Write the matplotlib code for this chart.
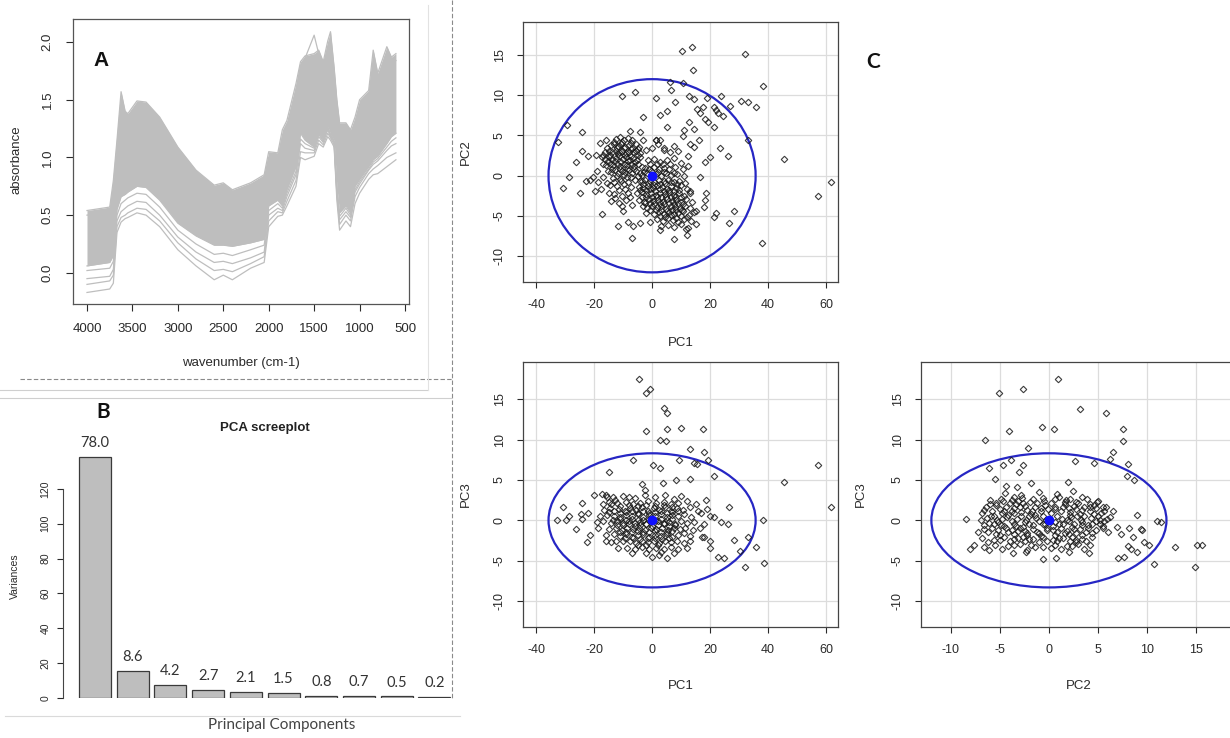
import numpy as np
import matplotlib
matplotlib.use("Agg")
import matplotlib.pyplot as plt
from matplotlib.patches import Ellipse
from matplotlib.lines import Line2D

plt.rcParams["font.family"] = ["Liberation Sans", "DejaVu Sans"]
plt.rcParams["axes.unicode_minus"] = False

W, H = 1230, 738

# ---------------- data ----------------
# FTIR spectra (absorbance read at these wavenumbers)
wavenumbers = [4000, 3750, 3710, 3670, 3625, 3580, 3550, 3450, 3350, 3200,
               3000, 2800, 2600, 2500, 2400, 2200, 2050, 2000, 1900, 1850,
               1800, 1700, 1650, 1600, 1500, 1450, 1400, 1350, 1320, 1280,
               1250, 1220, 1150, 1100, 1050, 1000, 900, 850, 800, 700,
               650, 600]
spec_upper = [0.54, 0.57, 0.80, 1.15, 1.57, 1.40, 1.38, 1.49, 1.48, 1.35,
              1.09, 0.89, 0.76, 0.78, 0.72, 0.78, 0.85, 1.05, 1.04, 1.24,
              1.32, 1.64, 1.83, 1.88, 1.90, 1.93, 1.83, 2.01, 2.09, 1.78,
              1.50, 1.30, 1.30, 1.24, 1.35, 1.50, 1.58, 1.93, 1.73, 1.96,
              1.87, 1.90]
spec_peak = [0.50, 0.53, 0.75, 1.10, 1.50, 1.36, 1.34, 1.45, 1.44, 1.30,
             1.05, 0.85, 0.72, 0.74, 0.69, 0.75, 0.82, 1.00, 1.00, 1.18,
             1.26, 1.58, 1.80, 1.86, 2.06, 1.90, 1.80, 1.96, 2.02, 1.72,
             1.45, 1.26, 1.26, 1.20, 1.30, 1.45, 1.52, 1.85, 1.68, 1.90,
             1.80, 1.84]
spec_band_low = [0.06, 0.09, 0.15, 0.55, 0.66, 0.68, 0.70, 0.75, 0.74, 0.63,
                 0.43, 0.32, 0.24, 0.24, 0.23, 0.26, 0.29, 0.58, 0.63, 0.58,
                 0.72, 0.92, 1.21, 1.15, 1.09, 1.21, 1.15, 1.27, 1.20, 1.15,
                 0.75, 0.52, 0.58, 0.52, 0.75, 0.81, 0.92, 0.98, 1.01, 1.12,
                 1.18, 1.21]
spec_low1 = [-0.17, -0.14, -0.09, 0.35, 0.44, 0.47, 0.48, 0.52, 0.50, 0.40,
             0.20, 0.06, -0.06, -0.02, -0.06, 0.04, 0.09, 0.40, 0.49, 0.50,
             0.58, 0.75, 1.00, 0.98, 1.01, 1.12, 1.09, 1.18, 1.15, 1.09,
             0.63, 0.37, 0.45, 0.40, 0.60, 0.69, 0.81, 0.85, 0.86, 0.92,
             0.95, 0.98]
spec_low2 = [-0.10, -0.07, -0.02, 0.40, 0.48, 0.50, 0.52, 0.56, 0.55, 0.45,
             0.26, 0.12, 0.02, 0.03, 0.01, 0.08, 0.14, 0.45, 0.53, 0.52,
             0.62, 0.80, 1.05, 1.04, 1.04, 1.15, 1.11, 1.21, 1.17, 1.11,
             0.68, 0.42, 0.50, 0.45, 0.66, 0.74, 0.86, 0.90, 0.93, 1.00,
             1.02, 1.04]
spec_low3 = [-0.05, -0.03, 0.03, 0.45, 0.53, 0.56, 0.58, 0.62, 0.61, 0.50,
             0.31, 0.18, 0.09, 0.10, 0.08, 0.13, 0.18, 0.50, 0.56, 0.54,
             0.66, 0.85, 1.12, 1.08, 1.06, 1.18, 1.13, 1.24, 1.18, 1.13,
             0.70, 0.46, 0.53, 0.48, 0.70, 0.77, 0.89, 0.94, 0.97, 1.06,
             1.10, 1.12]
spec_low4 = [0.02, 0.04, 0.10, 0.50, 0.60, 0.63, 0.65, 0.69, 0.68, 0.57,
             0.37, 0.25, 0.16, 0.17, 0.15, 0.20, 0.24, 0.54, 0.60, 0.56,
             0.69, 0.88, 1.16, 1.12, 1.08, 1.20, 1.14, 1.26, 1.19, 1.14,
             0.72, 0.49, 0.56, 0.50, 0.72, 0.79, 0.90, 0.96, 0.99, 1.09,
             1.14, 1.17]

# scree plot
variances = [138.5, 15.3, 7.5, 4.8, 3.7, 2.7, 1.4, 1.24, 0.89, 0.36]
pct_labels = ["78.0", "8.6", "4.2", "2.7", "2.1", "1.5", "0.8", "0.7", "0.5", "0.2"]

# Hotelling T2 ellipse radii on each PC
t2_radius = {"PC1": 35.7, "PC2": 12.0, "PC3": 8.3}

# PC1 vs PC2 scores
scores_pc1_pc2 = [
    (10.4, 15.5), (13.6, 16.0), (14.0, 13.1), (32.2, 15.1), (38.3, 11.1),
    (45.5, 2.1), (57.2, -2.5), (61.6, -0.8), (38.0, -8.3), (28.2, -4.4),
    (26.4, -5.9), (23.9, 9.9), (30.5, 9.3), (33.0, 9.1), (35.7, 8.6),
    (33.0, 4.5), (26.8, 8.7), (24.5, 7.4), (23.4, 3.5), (26.1, 2.4),
    (20.1, 2.3), (18.1, 1.7), (19.0, 9.6), (21.3, 8.5), (22.0, 8.2),
    (22.7, 7.8), (18.2, 7.1), (19.2, 6.7), (21.3, 6.1), (16.5, 7.8),
    (17.6, 8.6), (15.5, 8.3), (14.4, 9.5), (12.7, 9.9), (10.7, 11.5),
    (6.1, 11.7), (6.6, 10.7), (7.8, 9.2), (5.2, 8.1), (2.9, 7.5),
    (5.2, 6.1), (1.2, 9.6), (-5.8, 10.4), (-10.2, 9.9), (-3.1, 7.3),
    (-4.0, 5.4), (-7.7, 5.5), (-29.3, 6.3), (-24.2, 5.4), (-32.6, 4.2),
    (-24.2, 3.1), (-22.1, 2.5), (-26.1, 1.7), (-28.7, -0.1), (-30.8, -1.5),
    (-24.7, -2.1), (-19.6, -1.9), (-17.3, -4.7), (-10.0, -4.4), (-11.9, -6.2),
    (-8.3, -5.8), (-6.6, -6.2), (-6.8, -7.7), (-4.0, -5.9), (-0.6, -5.8),
    (2.6, -6.8), (7.5, -7.8), (12.1, -7.4), (11.6, -6.6), (15.3, -6.0),
    (15.1, -4.4), (18.2, -3.0), (18.5, -2.1), (17.8, -3.9), (22.0, -4.6),
    (21.3, -5.1), (16.5, -0.2), (13.2, -1.9), (12.4, 2.4), (14.4, 3.6),
    (13.0, 4.0), (16.1, 4.4), (14.4, 5.8), (12.7, 6.7), (10.9, 5.7),
    (10.7, 4.9), (7.5, 3.7), (4.0, 3.4), (1.2, 4.4), (2.6, 4.5),
    (-12.5, 4.6), (-11.0, 4.8), (-9.8, 4.5), (-8.2, 4.7), (-6.8, 4.4),
    (-14.2, 3.8), (-13.0, 3.9), (-11.8, 3.7), (-10.6, 3.9), (-9.4, 3.6),
    (-8.1, 3.8), (-6.9, 3.5), (-5.7, 3.9), (-4.4, 3.6), (-16.2, 3.0),
    (-15.0, 3.1), (-13.8, 2.9), (-12.6, 3.1), (-11.4, 2.9), (-10.2, 3.1),
    (-9.0, 2.8), (-7.8, 3.0), (-6.6, 2.9), (-5.4, 3.1), (-4.2, 2.8),
    (-17.4, 2.3), (-16.1, 2.1), (-14.9, 2.3), (-13.7, 2.1), (-12.5, 2.2),
    (-11.3, 2.4), (-10.1, 2.1), (-8.9, 2.3), (-7.7, 2.0), (-6.5, 2.2),
    (-5.3, 2.0), (-4.1, 2.3), (-17.0, 1.4), (-15.8, 1.3), (-14.6, 1.5),
    (-13.4, 1.3), (-12.2, 1.5), (-11.0, 1.2), (-9.8, 1.4), (-8.6, 1.3),
    (-7.4, 1.5), (-6.2, 1.2), (-5.0, 1.4), (-3.6, 1.1), (-15.2, 0.6),
    (-14.0, 0.5), (-12.8, 0.7), (-11.6, 0.4), (-10.4, 0.6), (-9.2, 0.5),
    (-8.0, 0.7), (-6.8, 0.4), (-5.6, 0.6), (-4.2, 0.3), (-16.8, -0.2),
    (-13.5, -0.3), (-11.0, -0.4), (-8.6, -0.2), (-6.0, -0.5), (-3.6, -0.6),
    (-14.4, -1.1), (-12.0, -1.3), (-9.6, -1.0), (-7.2, -1.4), (-15.0, -2.1),
    (-13.0, -2.3), (-10.5, -2.5), (-8.2, -2.2), (-14.0, -3.1), (-11.5, -3.4),
    (-9.0, -3.0), (-6.8, -3.6), (-19.5, 2.6), (-19.0, 0.6), (-20.5, -0.2),
    (-21.5, -0.5), (-18.5, -0.8), (-22.8, -0.7), (-18.0, 4.1), (-16.0, 4.4),
    (-15.5, -0.9), (-17.5, -1.6),
    (-13.2, 4.2), (-10.4, 4.2), (-7.4, 4.1), (-15.6, 3.5), (-12.2, 3.4),
    (-9.8, 3.4), (-7.2, 3.3), (-4.9, 3.3), (-16.8, 2.6), (-14.4, 2.6),
    (-11.9, 2.7), (-9.5, 2.6), (-7.1, 2.5), (-4.7, 2.6), (-15.2, 1.8),
    (-12.8, 1.8), (-10.6, 1.7), (-8.2, 1.8), (-5.8, 1.7), (-13.9, 0.9),
    (-11.0, 0.9), (-8.6, 0.9), (-6.2, 0.8), (-12.2, 0.0), (-9.8, 0.1),
    (-7.4, -0.1), (-5.0, 0.0), (-13.0, -0.8), (-10.8, -0.7), (-8.4, -0.8),
    (-11.5, -1.8), (-9.2, -1.7), (-12.8, -2.8), (-10.2, -3.8), (-7.5, -2.6),
    (-1.5, 1.9), (0.5, 2.1), (2.8, 1.7), (5.0, 1.9), (7.5, 2.2),
    (9.8, 1.6), (-2.6, 1.0), (-1.0, 0.9), (0.8, 1.1), (2.4, 0.8),
    (4.0, 1.0), (5.8, 0.9), (8.0, 1.1), (10.5, 0.8), (12.5, 1.2),
    (-3.4, 0.1), (-1.8, 0.3), (1.5, 0.2), (3.1, 0.0), (4.8, 0.3),
    (6.6, 0.1), (8.6, 0.2), (11.0, 0.0), (-4.0, -0.7), (-2.4, -0.5),
    (-0.8, -0.6), (0.8, -0.8), (2.4, -0.5), (4.0, -0.7), (5.6, -0.5),
    (7.4, -0.8), (9.3, -0.6), (11.5, -0.9), (-4.6, -1.4), (-3.0, -1.5),
    (-1.4, -1.3), (0.2, -1.5), (1.8, -1.2), (3.4, -1.4), (5.0, -1.6),
    (6.6, -1.3), (8.2, -1.5), (10.0, -1.2), (12.2, -1.6), (-5.2, -2.2),
    (-3.6, -2.0), (-2.0, -2.3), (-0.4, -2.1), (1.2, -2.4), (2.8, -2.1),
    (4.4, -2.3), (6.0, -2.0), (7.6, -2.4), (9.2, -2.2), (11.0, -2.5),
    (13.0, -2.1), (-4.4, -3.0), (-2.8, -3.2), (-1.2, -2.9), (0.4, -3.1),
    (2.0, -3.0), (3.6, -3.3), (5.2, -2.9), (6.8, -3.1), (8.4, -3.0),
    (10.0, -3.3), (11.8, -2.9), (13.8, -3.2), (-3.2, -3.8), (-1.6, -4.0),
    (0.0, -3.7), (1.6, -3.9), (3.2, -3.8), (4.8, -4.1), (6.4, -3.7),
    (8.0, -3.9), (9.6, -4.1), (11.2, -3.8), (13.0, -4.0), (-2.0, -4.6),
    (0.6, -4.7), (2.4, -4.5), (4.2, -4.8), (5.8, -4.5), (7.4, -4.7),
    (9.0, -4.6), (10.8, -4.4), (12.6, -4.9), (14.5, -4.5), (1.8, -5.4),
    (3.8, -5.6), (5.5, -5.3), (7.2, -5.5), (9.0, -5.7), (11.0, -5.4),
    (13.3, -5.6), (3.2, -6.3), (5.4, -6.1), (7.6, -6.4), (10.0, -6.0),
    (12.4, -6.5), (-2.0, 3.2), (0.0, 3.5), (2.2, 4.0), (4.0, 3.2),
    (6.2, 2.9), (8.8, 3.1), (-3.0, 4.4), (1.5, 4.5),
    (-0.6, 1.5), (1.6, 1.5), (3.8, 1.4), (6.2, 1.5), (-2.8, 0.5),
    (-0.4, 0.6), (2.2, 0.5), (4.0, 0.5), (7.4, 0.4), (-3.2, -1.0),
    (-1.4, -0.9), (0.6, -1.1), (2.8, -1.0), (4.6, -0.9), (6.4, -0.8),
    (8.6, -1.0), (-4.0, -1.8), (-2.2, -1.8), (-0.6, -1.7), (1.0, -1.9),
    (2.6, -1.7), (4.2, -1.9), (5.8, -1.8), (7.4, -1.9), (9.4, -1.8),
    (-3.6, -2.6), (-2.0, -2.6), (0.0, -2.7), (1.6, -2.6), (3.2, -2.7),
    (4.8, -2.6), (6.4, -2.7), (8.0, -2.6), (9.8, -2.7), (-2.4, -3.4),
    (-0.8, -3.4), (0.8, -3.5), (2.6, -3.4), (4.2, -3.5), (5.8, -3.4),
    (7.4, -3.5), (9.0, -3.4), (10.8, -3.5), (-0.6, -4.3), (1.2, -4.2),
    (3.0, -4.3), (5.0, -4.4), (6.8, -4.3), (8.4, -4.2), (10.2, -4.3),
    (2.8, -5.0), (4.6, -5.1), (6.4, -4.9), (8.2, -5.2), (10.0, -5.0),
    (12.0, -5.1),
]

# PC1 vs PC3 scores
scores_pc1_pc3 = [
    (-4.4, 17.5), (-2.0, 15.8), (-0.6, 16.3), (4.0, 13.9), (5.2, 13.3),
    (-2.0, 11.0), (5.2, 11.3), (10.0, 11.4), (17.5, 11.3), (2.6, 9.9),
    (4.9, 9.8), (13.2, 8.8), (17.8, 8.4), (19.2, 7.5), (14.4, 7.1),
    (15.5, 7.0), (9.2, 7.5), (-6.6, 7.5), (0.3, 6.9), (2.6, 6.5),
    (-14.7, 6.0), (21.5, 5.5), (13.0, 5.1), (8.1, 5.0), (3.8, 4.6),
    (-3.5, 4.5), (-2.6, 3.8), (45.5, 4.8), (57.2, 6.8), (61.6, 1.7),
    (38.1, 0.1), (26.6, 1.6), (21.3, 0.4), (23.6, -0.2), (26.1, -0.5),
    (28.4, -2.4), (33.0, -2.0), (35.7, -3.3), (30.3, -3.8), (38.5, -5.3),
    (32.2, -5.8), (22.8, -4.5), (24.7, -4.6), (20.1, -3.4), (20.1, -2.6),
    (17.3, -2.0), (-32.8, 0.0), (-30.8, 1.7), (-29.6, 0.1), (-28.5, 0.5),
    (-26.1, -1.1), (-24.5, 0.8), (-24.2, 2.1), (-24.2, 0.2), (-22.1, 0.9),
    (-20.1, 3.2), (-22.4, -2.7), (-21.5, -1.8), (-15.9, -2.5), (-11.9, -3.4),
    (-12.3, -2.5), (-17.3, 3.3), (-15.5, 2.9), (-12.7, 2.5), (-7.8, 2.9),
    (-16.0, 3.2), (-13.5, 2.9), (-10.0, 3.0), (-6.0, 2.8), (-2.5, 3.1),
    (1.0, 2.9), (4.5, 3.2), (7.5, 2.7), (10.0, 3.0), (-17.0, 2.0),
    (-15.0, 2.3), (-12.0, 2.1), (-9.0, 2.3), (-6.5, 2.0), (-4.0, 2.2),
    (-1.5, 2.4), (1.5, 2.1), (4.0, 2.3), (6.5, 2.0), (9.0, 2.2),
    (12.0, 2.4), (15.0, 2.0), (18.5, 2.5), (-16.5, 1.3), (-14.5, 1.5),
    (-11.5, 1.4), (-9.5, 1.2), (-7.5, 1.5), (-5.5, 1.3), (-3.5, 1.6),
    (-1.5, 1.2), (0.5, 1.5), (2.5, 1.3), (4.5, 1.6), (6.5, 1.2),
    (8.5, 1.5), (10.5, 1.3), (13.0, 1.6), (16.0, 1.1), (19.0, 1.4),
    (-18.0, 0.5), (-15.5, 0.7), (-13.0, 0.6), (-11.0, 0.4), (-9.0, 0.7),
    (-7.0, 0.5), (-5.0, 0.8), (-3.0, 0.4), (-1.0, 0.7), (1.0, 0.5),
    (3.0, 0.8), (5.0, 0.4), (7.0, 0.7), (9.0, 0.5), (11.0, 0.8),
    (13.5, 0.4), (17.0, 0.9), (20.0, 0.6), (-19.0, -0.2), (-17.0, -0.1),
    (-14.0, -0.3), (-12.0, -0.1), (-10.0, -0.3), (-8.0, -0.1), (-6.0, -0.3),
    (-4.0, -0.2), (-2.0, -0.4), (2.0, -0.1), (4.0, -0.3), (6.0, -0.2),
    (8.0, -0.4), (10.0, -0.1), (12.0, -0.3), (14.5, -0.2), (18.0, -0.5),
    (-18.5, -1.0), (-15.0, -1.1), (-12.5, -0.9), (-10.5, -1.2), (-8.5, -0.9),
    (-6.5, -1.1), (-4.5, -0.9), (-2.5, -1.2), (-0.5, -1.0), (1.5, -1.1),
    (3.5, -0.9), (5.5, -1.2), (7.5, -1.0), (9.5, -1.1), (11.5, -0.9),
    (14.0, -1.2), (16.5, -1.0), (-16.0, -1.8), (-13.0, -1.7), (-11.0, -1.9),
    (-9.0, -1.7), (-7.0, -2.0), (-5.0, -1.8), (-3.0, -1.7), (-1.0, -2.0),
    (1.0, -1.8), (3.0, -1.9), (5.0, -1.7), (7.0, -2.0), (9.0, -1.8),
    (11.0, -1.6), (13.0, -1.9), (18.0, -2.1), (-14.0, -2.7), (-10.0, -2.6),
    (-7.5, -2.5), (-5.5, -2.8), (-3.5, -2.6), (-1.5, -2.7), (0.5, -2.5),
    (2.5, -2.8), (4.5, -2.6), (6.5, -2.7), (8.5, -2.5), (11.0, -2.8),
    (13.0, -2.6), (-8.5, -3.4), (-6.0, -3.5), (-3.5, -3.3), (-1.0, -3.6),
    (1.5, -3.4), (4.0, -3.5), (6.5, -3.3), (9.0, -3.6), (12.0, -3.4),
    (-7.0, -4.0), (-2.0, -4.1), (0.0, -4.5), (2.5, -4.3), (5.0, -4.6),
    (7.5, -4.0), (3.0, -3.9),
    (-14.0, 2.0), (-11.0, 1.8), (-8.0, 1.9), (-5.0, 1.8), (-2.0, 1.9),
    (1.0, 1.8), (4.0, 1.9), (7.0, 1.7), (-15.0, 1.0), (-13.0, 1.1),
    (-11.0, 0.9), (-9.0, 1.0), (-7.0, 1.1), (-5.0, 0.9), (-3.0, 1.1),
    (-1.0, 0.9), (1.0, 1.0), (3.0, 1.1), (5.0, 0.9), (7.0, 1.0),
    (9.0, 1.1), (-13.5, 0.1), (-11.0, 0.2), (-9.0, 0.0), (-7.0, 0.2),
    (-5.0, 0.1), (-3.0, 0.0), (-1.0, 0.2), (1.0, 0.0), (3.0, 0.2),
    (5.0, 0.0), (7.0, 0.2), (-12.0, -0.6), (-10.0, -0.6), (-8.0, -0.5),
    (-6.0, -0.7), (-4.0, -0.6), (-2.0, -0.5), (0.0, -0.7), (2.0, -0.6),
    (4.0, -0.5), (6.0, -0.7), (8.0, -0.6), (-11.0, -1.4), (-9.0, -1.5),
    (-7.0, -1.4), (-5.0, -1.3), (-3.0, -1.5), (-1.0, -1.4), (1.0, -1.3),
    (3.0, -1.5), (5.0, -1.4), (7.0, -1.3), (-9.5, -2.2), (-6.5, -2.2),
    (-4.0, -2.3), (-1.5, -2.2), (1.0, -2.2), (3.5, -2.3), (6.0, -2.2),
    (-5.0, -3.0), (-2.0, -3.0), (2.0, -3.0),
]

# PC2 vs PC3 scores
scores_pc2_pc3 = [
    (0.9, 17.5), (-2.6, 16.3), (-5.1, 15.8), (3.2, 13.8), (5.8, 13.3),
    (7.6, 11.3), (7.6, 9.8), (-0.7, 11.5), (0.5, 11.3), (-4.1, 11.1),
    (-6.5, 9.9), (-2.1, 8.9), (6.5, 8.4), (6.2, 7.6), (2.7, 7.4),
    (4.6, 7.1), (8.1, 7.0), (-3.9, 7.5), (-4.7, 6.9), (-2.6, 6.8),
    (-6.1, 6.5), (-3.1, 6.0), (8.0, 5.5), (8.7, 5.0), (-5.5, 5.1),
    (-1.8, 4.6), (1.9, 4.8), (-4.4, 4.3), (-3.3, 4.1), (-8.5, 0.2),
    (4.9, 2.3), (5.5, 1.7), (9.0, 0.7), (11.0, -0.1), (11.4, -0.2),
    (5.6, -0.1), (6.9, -0.8), (7.4, -1.7), (8.2, -1.0), (9.4, -1.1),
    (9.5, -1.2), (8.6, -2.1), (9.7, -2.7), (10.2, -3.1), (8.1, -3.2),
    (8.4, -3.6), (9.0, -3.9), (7.1, -4.6), (7.7, -4.5), (12.9, -3.3),
    (15.1, -3.1), (15.6, -3.1), (14.9, -5.8), (10.7, -5.4), (4.1, -4.0),
    (2.1, -3.9), (0.7, -4.6), (-0.6, -4.8), (-3.7, -4.0), (-2.3, -3.9),
    (-8.1, -3.6), (-7.7, -3.1), (-7.2, -1.5), (-6.6, -3.3), (-6.1, -3.7),
    (-4.5, 3.4), (-2.8, 3.2), (-1.0, 3.5), (0.8, 3.3), (2.5, 3.6),
    (-3.6, 2.9), (-6.0, 2.5), (-4.9, 2.7), (-3.8, 2.5), (-2.7, 2.8),
    (-1.6, 2.6), (-0.5, 2.4), (0.6, 2.7), (1.7, 2.5), (2.8, 2.3),
    (3.9, 2.6), (5.0, 2.4), (-6.4, 1.7), (-5.4, 1.9), (-4.4, 1.7),
    (-3.4, 2.0), (-2.4, 1.8), (-1.4, 1.6), (-0.4, 1.9), (0.6, 1.7),
    (1.6, 2.0), (2.6, 1.8), (3.6, 1.6), (4.6, 1.9), (5.8, 1.6),
    (-6.8, 0.9), (-5.8, 1.1), (-4.8, 0.9), (-3.8, 1.2), (-2.8, 1.0),
    (-1.8, 0.8), (-0.8, 1.1), (0.2, 0.9), (1.2, 1.2), (2.2, 1.0),
    (3.2, 0.8), (4.2, 1.1), (5.3, 0.9), (6.5, 1.2), (-6.3, 0.3),
    (-5.3, 0.1), (-4.3, 0.4), (-3.3, 0.2), (-2.3, 0.0), (-1.3, 0.3),
    (-0.3, 0.1), (1.3, 0.2), (2.3, 0.4), (3.3, 0.1), (4.3, 0.3),
    (5.2, 0.0), (6.2, 0.4), (-6.6, -0.6), (-5.6, -0.4), (-4.6, -0.7),
    (-3.6, -0.5), (-2.6, -0.8), (-1.6, -0.6), (-0.6, -0.4), (0.4, -0.7),
    (1.4, -0.5), (2.4, -0.8), (3.4, -0.6), (4.4, -0.4), (5.5, -0.7),
    (-6.2, -1.4), (-5.2, -1.2), (-4.2, -1.5), (-3.2, -1.3), (-2.2, -1.6),
    (-1.2, -1.4), (-0.2, -1.2), (0.8, -1.5), (1.8, -1.3), (2.8, -1.6),
    (3.8, -1.4), (4.8, -1.2), (6.0, -1.5), (-6.8, -2.2), (-5.6, -2.4),
    (-4.6, -2.1), (-3.6, -2.3), (-2.6, -2.0), (-1.6, -2.3), (-0.6, -2.1),
    (0.4, -2.4), (1.4, -2.2), (2.4, -2.0), (3.4, -2.3), (4.4, -2.1),
    (-5.5, -3.0), (-4.2, -3.2), (-3.0, -2.9), (-1.8, -3.1), (-0.6, -3.3),
    (0.6, -3.0), (1.8, -3.2), (3.0, -2.9), (4.2, -3.1), (-2.2, -3.7),
    (1.2, -3.6), (2.8, -2.7),
    (-5.4, 2.2), (-4.0, 2.1), (-2.6, 2.2), (-1.2, 2.1), (0.2, 2.2),
    (1.6, 2.3), (3.0, 2.1), (-5.0, 1.4), (-3.6, 1.5), (-2.2, 1.3),
    (-0.8, 1.5), (0.6, 1.4), (2.0, 1.5), (3.4, 1.3), (4.8, 1.5),
    (-5.6, 0.6), (-4.2, 0.7), (-2.8, 0.6), (-1.4, 0.7), (0.8, 0.6),
    (2.2, 0.7), (3.6, 0.6), (5.0, 0.6), (-5.2, -0.2), (-3.8, -0.1),
    (-2.4, -0.2), (-1.0, -0.1), (0.6, -0.2), (2.0, -0.1), (3.4, -0.2),
    (4.8, -0.1), (-5.8, -1.0), (-4.4, -0.9), (-3.0, -1.0), (-1.6, -1.1),
    (-0.2, -0.9), (1.2, -1.0), (2.6, -1.1), (4.0, -0.9), (-5.0, -1.8),
    (-3.6, -1.7), (-2.2, -1.8), (-0.8, -1.9), (0.6, -1.8), (2.0, -1.7),
    (3.4, -1.8), (-4.0, -2.6), (-2.4, -2.6), (-1.0, -2.7), (0.8, -2.6),
    (2.2, -2.6),
    (-6.0, 2.0), (-4.7, 2.4), (-3.2, 2.4), (-1.9, 2.3), (-0.6, 2.8),
    (1.0, 2.9), (2.2, 2.7), (3.4, 2.9), (4.2, 2.0), (-6.6, 1.3),
    (-5.9, 0.5), (-4.6, 1.2), (-3.0, 1.6), (-1.7, 1.2), (-0.1, 1.4),
    (1.4, 1.7), (2.8, 1.4), (4.2, 1.6), (5.6, 1.1), (-6.9, 0.0),
    (-4.8, 0.2), (-3.6, 0.9), (-2.0, 0.5), (-0.6, 0.6), (1.8, 0.1),
    (2.9, 0.5), (4.6, 0.8), (5.9, 0.2), (-6.1, -0.3), (-4.9, -0.6),
    (-3.4, -0.7), (-2.0, -0.4), (-0.4, -0.5), (1.0, -0.4), (2.6, -0.4),
    (4.0, -0.6), (5.2, -0.4), (-6.6, -1.1), (-5.4, -1.7), (-3.8, -1.2),
    (-2.4, -1.3), (-1.0, -1.6), (0.4, -1.2), (1.6, -1.6), (3.2, -1.1),
    (4.4, -1.6), (5.5, -1.0), (-6.2, -2.7), (-5.0, -2.4), (-3.2, -2.2),
    (-2.0, -2.3), (-0.2, -2.5), (1.0, -2.2), (2.8, -2.4), (3.8, -2.6),
    (-4.8, -3.5), (-3.6, -3.0), (-1.4, -3.3), (0.2, -3.4), (2.4, -3.2),
    (3.6, -3.5),
]

GREY = "#BEBEBE"
TXT = "#2a2a2a"


def px_rect(left, top, right, bottom):
    return [left / W, 1 - bottom / H, (right - left) / W, (bottom - top) / H]


def r_yticklabels(ax):
    for t in ax.get_yticklabels():
        t.set_rotation(90)
        t.set_va("center")


fig = plt.figure(figsize=(W / 100, H / 100), dpi=100)

# ---------------- panel A: spectra ----------------
axa = fig.add_axes(px_rect(73, 19, 409, 304))
axa.fill_between(wavenumbers, spec_band_low, spec_upper, color=GREY, lw=0)
for spec in [spec_upper, spec_peak, spec_band_low, spec_low1, spec_low2,
             spec_low3, spec_low4]:
    axa.plot(wavenumbers, spec, color=GREY, lw=0.9)
axa.set_xlim(4154, 456)
axa.set_ylim(-0.27, 2.2)
axa.set_xticks(range(4000, 499, -500))
axa.set_yticks([0.0, 0.5, 1.0, 1.5, 2.0])
axa.set_yticklabels(["0.0", "0.5", "1.0", "1.5", "2.0"])
axa.tick_params(labelsize=9.5, length=5, pad=9, colors=TXT, width=0.8)
r_yticklabels(axa)
for sp in axa.spines.values():
    sp.set_color("#555555")
    sp.set_linewidth(0.9)
axa.set_xlabel("wavenumber (cm-1)", fontsize=9.5, color=TXT)
axa.xaxis.set_label_coords(0.5, -0.186)
axa.set_ylabel("absorbance", fontsize=9.5, color=TXT)
axa.yaxis.set_label_coords(-0.149, 0.505)
axa.text(0.06, 0.855, "A", transform=axa.transAxes, fontsize=15,
         fontweight="bold", color="#111111", ha="left", va="center")

# ---------------- panel B: scree plot ----------------
axb = fig.add_axes(px_rect(63, 454, 460, 698))
pos = np.arange(len(variances))
axb.bar(pos, variances, width=0.85, color=GREY, edgecolor="#3a3a3a", lw=0.9)
for i, (v, lab) in enumerate(zip(variances, pct_labels)):
    axb.annotate(lab, (i, v), xytext=(0, 5), textcoords="offset points",
                 ha="center", va="bottom", fontsize=10.5, color="#333333",
                 family=["Lato", "DejaVu Sans"], annotation_clip=False)
axb.set_xlim(-0.85, 9.68)
axb.set_ylim(0, 140)
axb.set_xticks([])
axb.set_yticks(range(0, 121, 20))
axb.spines["left"].set_bounds(0, 120)
for s in ["top", "right", "bottom"]:
    axb.spines[s].set_visible(False)
axb.spines["left"].set_color("#444444")
axb.tick_params(axis="y", labelsize=7.5, length=4, pad=5, colors=TXT, width=0.8)
r_yticklabels(axb)
axb.set_ylabel("Variances", fontsize=7.5, color=TXT)
axb.yaxis.set_label_coords(-0.108, 0.5)
fig.text(265 / W, 1 - 428 / H, "PCA screeplot", fontsize=9.5, fontweight="bold",
         color="#222222", ha="center", va="center")
fig.text(103 / W, 1 - 412 / H, "B", fontsize=15, fontweight="bold",
         family=["Lato", "DejaVu Sans"], color="#111111", ha="center", va="center")
fig.text(282 / W, 1 - 725 / H, "Principal Components", fontsize=11,
         family=["Lato", "DejaVu Sans"], color="#444444", ha="center", va="center")


# ---------------- panel C: score plots ----------------
def score_plot(rect, pts, xpc, ypc, xlim, ylim, xticks, xlab_y, ylab_x):
    ax = fig.add_axes(rect)
    ax.set_xlim(*xlim)
    ax.set_ylim(*ylim)
    yticks = [-10, -5, 0, 5, 10, 15]
    ax.set_xticks(xticks)
    ax.set_yticks(yticks)
    for xt in xticks:
        ax.axvline(xt, color="#dcdcdc", lw=0.9, zorder=0)
    for yt in yticks:
        ax.axhline(yt, color="#dcdcdc", lw=0.9, zorder=0)
    ax.add_patch(Ellipse((0, 0), 2 * t2_radius[xpc], 2 * t2_radius[ypc],
                         fill=False, ec="#2626c4", lw=1.6, zorder=2))
    arr = np.array(pts)
    ax.plot(arr[:, 0], arr[:, 1], ls="none", marker="D", ms=3.3, mfc="none",
            mec="#1a1a1a", mew=0.8, alpha=0.85, zorder=3)
    ax.plot([0], [0], ls="none", marker="o", ms=6, color="#1010ff", zorder=4)
    ax.tick_params(labelsize=9, length=4.5, pad=8, colors=TXT, width=0.8)
    r_yticklabels(ax)
    for sp in ax.spines.values():
        sp.set_color("#444444")
        sp.set_linewidth(0.9)
    ax.set_xlabel(xpc, fontsize=9.5, color=TXT)
    ax.xaxis.set_label_coords(0.5, xlab_y)
    ax.set_ylabel(ypc, fontsize=9.5, color=TXT)
    ax.yaxis.set_label_coords(ylab_x, 0.5)
    return ax


score_plot(px_rect(523, 22, 838, 282), scores_pc1_pc2, "PC1", "PC2",
           (-44.5, 64.1), (-13.2, 19.1), [-40, -20, 0, 20, 40, 60], -0.212, -0.162)
score_plot(px_rect(523, 362, 838, 627), scores_pc1_pc3, "PC1", "PC3",
           (-44.5, 64.1), (-13.2, 19.6), [-40, -20, 0, 20, 40, 60], -0.2, -0.162)
score_plot(px_rect(921, 362, 1236, 627), scores_pc2_pc3, "PC2", "PC3",
           (-13.06, 19.1), (-13.2, 19.6), [-10, -5, 0, 5, 10, 15], -0.2, -0.171)

fig.text(873 / W, 1 - 62 / H, "C", fontsize=15, fontweight="bold",
         family=["Lato", "DejaVu Sans"], color="#111111", ha="center", va="center")

# panel separators
dash = (0, (4, 2))
fig.add_artist(Line2D([20 / W, 452 / W], [1 - 379 / H] * 2, ls=dash, color="#8a8a8a", lw=0.8))
fig.add_artist(Line2D([452 / W] * 2, [1.0, 1 - 698 / H], ls=dash, color="#8a8a8a", lw=0.8))
fig.add_artist(Line2D([0, 428 / W], [1 - 390 / H] * 2, color="#cfcfcf", lw=0.8))
fig.add_artist(Line2D([0, 452 / W], [1 - 398 / H] * 2, color="#cfcfcf", lw=0.8))
fig.add_artist(Line2D([428 / W] * 2, [1 - 5 / H, 1 - 390 / H], color="#e2e2e2", lw=0.8))
fig.add_artist(Line2D([5 / W, 460 / W], [1 - 716 / H] * 2, color="#dadada", lw=0.8))

fig.savefig("out.png", dpi=100)
